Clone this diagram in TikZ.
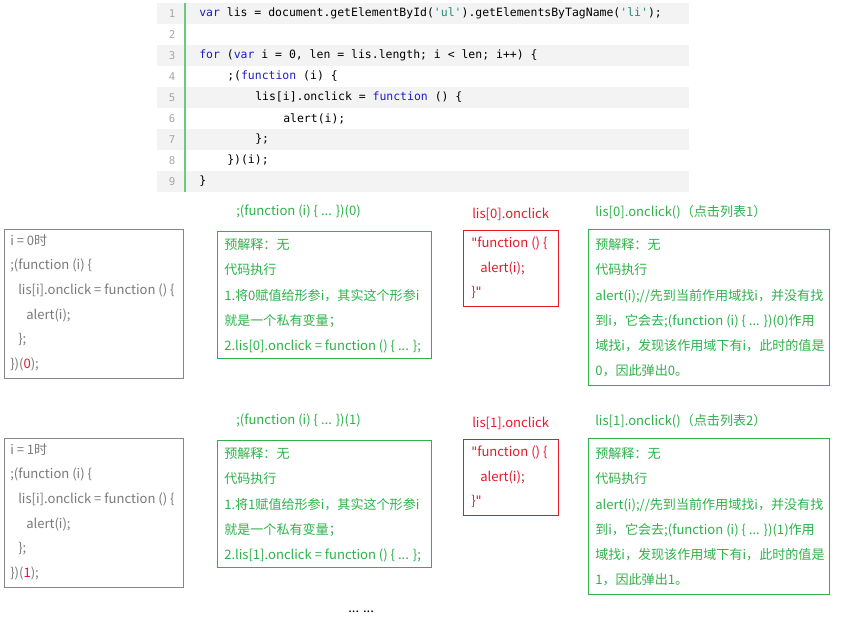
\documentclass[tikz,border=0pt]{standalone}
\usepackage{fontspec}
\setmainfont{Noto Sans CJK SC}
\setmonofont{DejaVu Sans Mono}
\newfontfamily\quotefont{DejaVu Sans}
\definecolor{cgreen}{HTML}{2DB24A}
\definecolor{cred}{HTML}{E8182B}
\definecolor{cgrey}{HTML}{7A7A7A}
\definecolor{ckey}{HTML}{1C1CC8}
\definecolor{cstr}{HTML}{1E8C78}
\definecolor{rowbg}{HTML}{F3F3F3}
\begin{document}
\begin{tikzpicture}[x=0.75pt,y=-0.75pt,
  txt/.style={anchor=west,inner sep=0pt,font=\fontsize{9.8pt}{11pt}\selectfont},
  code/.style={anchor=west,inner sep=0pt,font=\ttfamily\fontsize{8.6pt}{10pt}\selectfont},
  lnum/.style={anchor=center,inner sep=0pt,text=gray!70,font=\ttfamily\fontsize{8pt}{10pt}\selectfont}]
\useasboundingbox (0,0) rectangle (862,625);
\newcommand{\kw}[1]{\textcolor{ckey}{#1}}
\newcommand{\st}[1]{\textcolor{cstr}{#1}}
\newcommand{\dq}{{\quotefont\symbol{"22}}}

% code listing
\foreach \r in {1,3,5,7,9}
  \fill[rowbg] (157,{3+21*(\r-1)}) rectangle (689,{3+21*\r});
\foreach \r in {1,...,9}
  \node[lnum] (ln\r) at (172,{13.5+21*(\r-1)}) {\r};
\draw[cgreen!70,line width=2.2pt] (185,3) -- (185,192);
\node[code] (c1) at (199,13.5) {\kw{var} lis = document.getElementById(\st{'ul'}).getElementsByTagName(\st{'li'});};
\node[code] (c3) at (199,55.5) {\kw{for} (\kw{var} i = 0, len = lis.length; i < len; i++) \{};
\node[code] (c4) at (227,76.5) {;(\kw{function} (i) \{};
\node[code] (c5) at (255,97.5) {lis[i].onclick = \kw{function} () \{};
\node[code] (c6) at (283,118.5) {alert(i);};
\node[code] (c7) at (255,139.5) {\};};
\node[code] (c8) at (227,160.5) {\})(i);};
\node[code] (c9) at (199,181.5) {\}};

% two rounds of the loop
\foreach \k/\dy in {0/0,1/209}{
  \pgfmathtruncatemacro{\n}{\k+1}
  % left grey box
  \draw[cgrey!90] (4,229+\dy) rectangle (183,378+\dy);
  \begin{scope}[every node/.style={txt,text=cgrey}]
    \node (g1\k) at (10,240+\dy) {i = \k 时};
    \node (g2\k) at (10,265+\dy) {;(function (i) \{};
    \node (g3\k) at (18,290+\dy) {lis[i].onclick = function () \{};
    \node (g4\k) at (26,315+\dy) {alert(i);};
    \node (g5\k) at (18,340+\dy) {\};};
    \node (g6\k) at (10,364+\dy) {\})(\textcolor{cred}{\k});};
  \end{scope}
  % green box: self-invoking call
  \node[txt,text=cgreen] (ft\k) at (236,211+\dy) {;(function (i) \{ ... \})(\k)};
  \draw[cgreen] (217,231+\dy) rectangle (431,358+\dy);
  \begin{scope}[every node/.style={txt,text=cgreen}]
    \node (f1\k) at (224,245+\dy) {预解释：无};
    \node (f2\k) at (224,270+\dy) {代码执行};
    \node (f3\k) at (224,296+\dy) {1.将\k 赋值给形参i，其实这个形参i};
    \node (f4\k) at (224,321+\dy) {就是一个私有变量；};
    \node (f5\k) at (224,346+\dy) {2.lis[\k].onclick = function () \{ ... \};};
  \end{scope}
  % red box: the stored function
  \node[txt,text=cred] (rt\k) at (472,214+\dy) {lis[\k].onclick};
  \draw[cred] (463,230+\dy) rectangle (558,306+\dy);
  \begin{scope}[every node/.style={txt,text=cred}]
    \node (r1\k) at (471,243+\dy) {\dq function () \{};
    \node (r2\k) at (480,268+\dy) {alert(i);};
    \node (r3\k) at (471,292+\dy) {\}\dq};
  \end{scope}
  % green box: the click
  \node[txt,text=cgreen] (ct\k) at (595,212+\dy) {lis[\k].onclick()（点击列表\n）};
  \draw[cgreen] (588,229+\dy) rectangle (829,385+\dy);
  \begin{scope}[every node/.style={txt,text=cgreen}]
    \node (k1\k) at (595,245+\dy) {预解释：无};
    \node (k2\k) at (595,270+\dy) {代码执行};
    \node (k3\k) at (595,296+\dy) {alert(i);//先到当前作用域找i，并没有找};
    \node (k4\k) at (595,321+\dy) {到i，它会去;(function (i) \{ ... \})(\k)作用};
    \node (k5\k) at (595,346+\dy) {域找i，发现该作用域下有i，此时的值是};
    \node (k6\k) at (595,371+\dy) {\k，因此弹出\k。};
  \end{scope}
}
\node[txt] (more) at (348,612) {... ...};
\end{tikzpicture}
\end{document}
